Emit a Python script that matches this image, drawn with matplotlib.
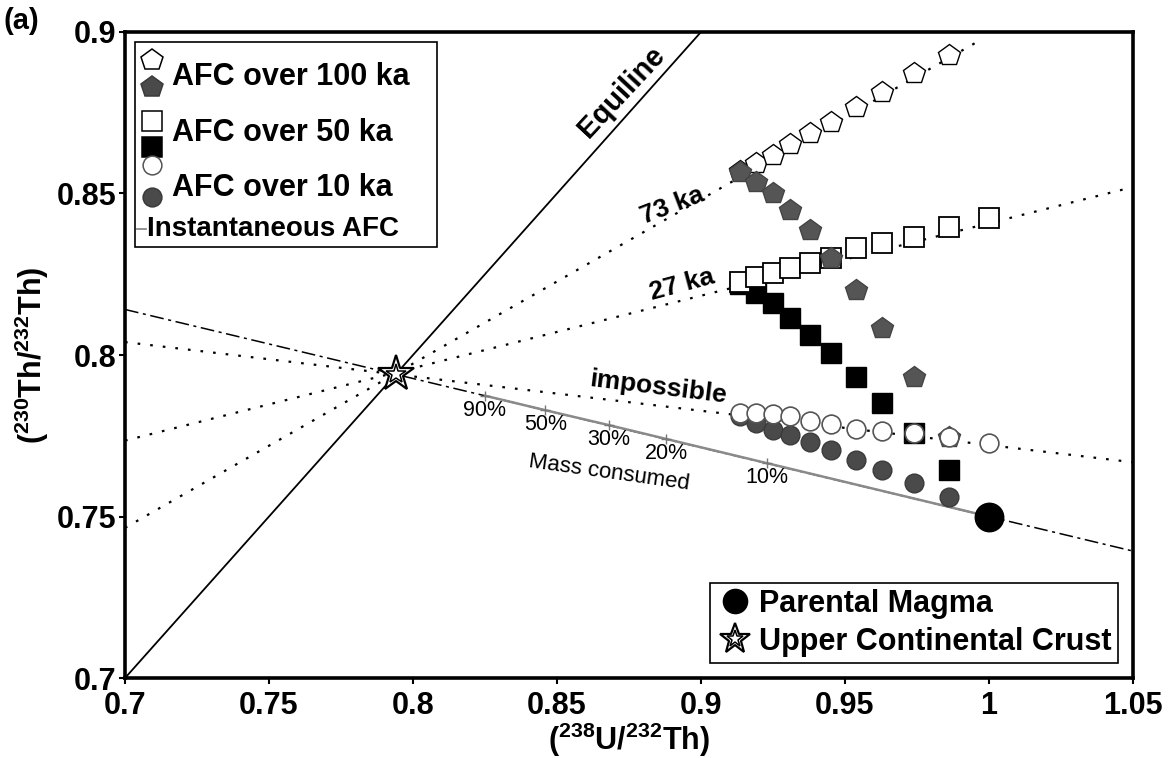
import matplotlib
matplotlib.use("Agg")
import matplotlib.pyplot as plt
from matplotlib.patches import Rectangle
from matplotlib.legend_handler import HandlerTuple

plt.rcParams['font.family'] = ['Liberation Sans', 'DejaVu Sans']
plt.rcParams['mathtext.fontset'] = 'custom'
plt.rcParams['mathtext.rm'] = 'Liberation Sans:bold'
plt.rcParams['mathtext.bf'] = 'Liberation Sans:bold'

# (238U/232Th) steps shared by the AFC series
u_th = [0.9135, 0.919, 0.925, 0.931, 0.938, 0.945, 0.954, 0.963, 0.974, 0.986, 1.0]

# (230Th/232Th) values
pent_open = [0.857, 0.8593, 0.8619, 0.8653, 0.8686, 0.872, 0.8767, 0.8815, 0.8872, 0.8929]
pent_fill = [0.8568, 0.8537, 0.8501, 0.8449, 0.8387, 0.8299, 0.8201, 0.8083, 0.7933, 0.7747]
sq_open = [0.8227, 0.8242, 0.8253, 0.8268, 0.8284, 0.830, 0.833, 0.8346, 0.8366, 0.8397, 0.8423]
sq_fill = [0.822, 0.8191, 0.816, 0.8114, 0.8062, 0.8005, 0.7933, 0.785, 0.776, 0.7644]
circ_open = [0.7822, 0.7822, 0.7818, 0.7812, 0.7796, 0.7785, 0.777, 0.7764, 0.7758, 0.7747, 0.7727]
circ_fill = [0.781, 0.7789, 0.7768, 0.7752, 0.7732, 0.7706, 0.7675, 0.7644, 0.7603, 0.7561]

# end members
crust = (0.794, 0.794)
parental = (1.0, 0.75)

# lines through the crust point
equi_x = [0.7, 0.9]
mix_x, mix_y = [0.7, 1.05], [0.8141, 0.7393]
imp_x, imp_y = [0.7, 1.05], [0.804, 0.7668]
iso27_x, iso27_y = [0.7, 1.05], [0.7735, 0.852]
iso73_x, iso73_y = [0.7, 0.998], [0.7465, 0.898]

# instantaneous AFC, mass consumed marks
mass_lbl = ['90%', '50%', '30%', '20%', '10%']
mass_x = [0.825, 0.846, 0.868, 0.888, 0.923]
mass_y = [0.7874, 0.7829, 0.7783, 0.774, 0.7665]

xticks = [0.7, 0.75, 0.8, 0.85, 0.9, 0.95, 1.0, 1.05]
xtick_lbl = ['0.7', '0.75', '0.8', '0.85', '0.9', '0.95', '1', '1.05']
yticks = [0.7, 0.75, 0.8, 0.85, 0.9]
ytick_lbl = ['0.7', '0.75', '0.8', '0.85', '0.9']

fig = plt.figure(figsize=(11.76, 7.58), dpi=100)
ax = fig.add_axes([0.1063, 0.1055, 0.8571, 0.8523])

dots = (0, (1.2, 4.5))
ax.plot(equi_x, equi_x, color='black', lw=1.3, zorder=2)
ax.plot(mix_x, mix_y, color='black', lw=1.1, ls=(0, (9, 3, 2, 3)), zorder=2)
ax.plot(imp_x, imp_y, color='black', lw=1.6, ls=dots, zorder=2)
ax.plot(iso27_x, iso27_y, color='black', lw=1.6, ls=dots, zorder=2)
ax.plot(iso73_x, iso73_y, color='black', lw=1.6, ls=dots, zorder=2)

ax.plot(mass_x + [parental[0]], mass_y + [parental[1]], color='#8a8a8a', lw=1.8, zorder=2)
ax.plot(mass_x, mass_y, ls='none', marker='+', ms=7, mew=1.0, color='#777777', zorder=2)
for lbl, x, y in zip(mass_lbl, mass_x, mass_y):
    ax.text(x, y - 0.0045, lbl, fontsize=15.5, ha='center', va='center')
ax.text(0.868, 0.7635, 'Mass consumed', fontsize=16, ha='center', va='center', rotation=-8)

ax.plot(u_th[:10], pent_open, ls='none', marker='p', ms=16, mfc='white', mec='black', mew=1.0, zorder=3)
ax.plot(u_th[:10], sq_fill, ls='none', marker='s', ms=15, mfc='black', mec='black', zorder=4)
ax.plot(u_th, sq_open, ls='none', marker='s', ms=15, mfc='white', mec='black', mew=1.3, zorder=5)
ax.plot(u_th[:10], pent_fill, ls='none', marker='p', ms=16, mfc='#555555', mec='#444444', mew=1.0, zorder=6)
ax.plot(u_th[:10], circ_fill, ls='none', marker='o', ms=13.5, mfc='#4a4a4a', mec='#3a3a3a', mew=1.0, zorder=7)
ax.plot(u_th, circ_open, ls='none', marker='o', ms=13.5, mfc='white', mec='#555555', mew=1.2, zorder=8)

pm, = ax.plot(*parental, ls='none', marker='o', ms=20.5, color='black', zorder=9)
st_out, = ax.plot(*crust, ls='none', marker='*', ms=27, mfc='white', mec='black', mew=1.6, zorder=9)
st_in, = ax.plot(*crust, ls='none', marker='*', ms=15, mfc='white', mec='black', mew=1.1, zorder=9)

ax.text(0.8725, 0.8815, 'Equiline', fontsize=21, fontweight='bold', rotation=47, ha='center', va='center')
ax.text(0.8899, 0.8464, '73 ka', fontsize=19, fontweight='bold', rotation=21, ha='center', va='center')
ax.text(0.8934, 0.8217, '27 ka', fontsize=19, fontweight='bold', rotation=15, ha='center', va='center')
ax.text(0.885, 0.7898, 'impossible', fontsize=19, fontweight='bold', rotation=-7, ha='center', va='center')

# legend, upper left, drawn by hand to stack the open and filled symbols
tr = ax.transAxes
ax.add_patch(Rectangle((0.01, 0.667), 0.30, 0.318, transform=tr, fill=True, fc='white',
                       ec='black', lw=1.2, zorder=10))
leg_rows = [
    ('p', 16, 'white', 'black', 0.957),
    ('p', 16, '#4a4a4a', '#3a3a3a', 0.915),
    ('s', 15, 'white', 'black', 0.862),
    ('s', 15, 'black', 'black', 0.822),
    ('o', 13.5, 'white', '#555555', 0.794),
    ('o', 13.5, '#4a4a4a', '#3a3a3a', 0.745),
]
for mk, ms, fc, ec, yy in leg_rows:
    ax.plot([0.027], [yy], transform=tr, ls='none', marker=mk, ms=ms, mfc=fc, mec=ec, mew=1.1,
            zorder=11, clip_on=False)
for txt, yy in [('AFC over 100 ka', 0.930), ('AFC over 50 ka', 0.844), ('AFC over 10 ka', 0.758)]:
    ax.text(0.047, yy, txt, transform=tr, fontsize=22, fontweight='bold', va='center', zorder=11)
ax.plot([0.012, 0.021], [0.695, 0.695], transform=tr, color='#8a8a8a', lw=1.3, zorder=11)
ax.text(0.022, 0.695, 'Instantaneous AFC', transform=tr, fontsize=20, fontweight='bold',
        va='center', zorder=11)

leg = ax.legend([pm, (st_out, st_in)], ['Parental Magma', 'Upper Continental Crust'],
                handler_map={tuple: HandlerTuple(ndivide=1)},
                loc='lower right', prop={'weight': 'bold', 'size': 22}, frameon=True,
                fancybox=False, edgecolor='black', framealpha=1, borderpad=0.2, handletextpad=0.2,
                labelspacing=0.25, borderaxespad=0.5, handlelength=1.2, markerscale=0.85)
leg.get_frame().set_linewidth(1.2)
leg.set_zorder(12)

ax.set_xlim(0.7, 1.05)
ax.set_ylim(0.7, 0.9)
ax.set_xticks(xticks)
ax.set_xticklabels(xtick_lbl)
ax.set_yticks(yticks)
ax.set_yticklabels(ytick_lbl)
ax.tick_params(direction='out', length=4, width=1.5, labelsize=22, pad=2)
ax.tick_params(axis='x', pad=5)
for lab in ax.get_xticklabels() + ax.get_yticklabels():
    lab.set_fontweight('bold')
for sp in ax.spines.values():
    sp.set_linewidth(2.6)

ax.set_xlabel(r'($^{238}$U/$^{232}$Th)', fontsize=22, fontweight='bold', labelpad=0)
ax.set_ylabel(r'($^{230}$Th/$^{232}$Th)', fontsize=22, fontweight='bold', labelpad=4)
fig.text(0.003, 0.972, '(a)', fontsize=21, fontweight='bold', va='center')

fig.savefig('out.png', dpi=100)
